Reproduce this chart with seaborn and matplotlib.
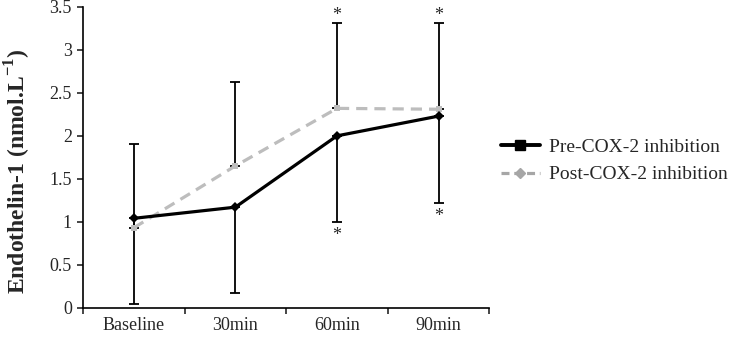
import numpy as np
import pandas as pd
import seaborn as sns
import matplotlib.pyplot as plt
from matplotlib.lines import Line2D
from matplotlib.ticker import FixedLocator

# values
times = ["Baseline", "30min", "60min", "90min"]
pre = [1.04, 1.17, 2.00, 2.23]
post = [0.93, 1.65, 2.32, 2.31]
pre_sd = [1.00, 1.00, 1.00, 1.01]    # drawn downwards only
post_sd = [0.98, 0.98, 0.99, 1.00]   # drawn upwards only
star_top = [False, False, True, True]
star_bottom = [False, False, True, True]

df = pd.DataFrame({
    "time": times * 2,
    "value": pre + post,
    "group": ["Pre-COX-2 inhibition"] * 4 + ["Post-COX-2 inhibition"] * 4,
})

sns.set_style("white")
plt.rcParams["font.family"] = ["Liberation Serif", "DejaVu Serif"]
plt.rcParams["mathtext.fontset"] = "custom"
plt.rcParams["mathtext.rm"] = "Liberation Serif"
plt.rcParams["mathtext.bf"] = "Liberation Serif:bold"

fig = plt.figure(figsize=(7.37, 3.41), dpi=100)
ax = fig.add_axes([0.1126, 0.0977, 0.5514, 0.8818])

x = np.arange(len(times))

# error bars first so lines sit on top
ax.errorbar(x, post, yerr=[np.zeros(4), post_sd], fmt="none", ecolor="black",
            elinewidth=1.3, capsize=3.5, capthick=1.3, zorder=1)
ax.errorbar(x, pre, yerr=[pre_sd, np.zeros(4)], fmt="none", ecolor="black",
            elinewidth=1.3, capsize=3.5, capthick=1.3, zorder=1)

sns.lineplot(data=df, x="time", y="value", hue="group", style="group",
             palette={"Pre-COX-2 inhibition": "black", "Post-COX-2 inhibition": "#bdbdbd"},
             dashes={"Pre-COX-2 inhibition": "", "Post-COX-2 inhibition": (3.5, 2.2)},
             markers={"Pre-COX-2 inhibition": "D", "Post-COX-2 inhibition": "s"},
             hue_order=["Post-COX-2 inhibition", "Pre-COX-2 inhibition"],
             markersize=5, markeredgewidth=0, linewidth=2.3, legend=False,
             ax=ax, zorder=3)

# significance stars
for i in range(len(times)):
    if star_top[i]:
        ax.text(x[i], post[i] + post_sd[i] - 0.01, "*", ha="center",
                va="bottom", fontsize=13)
    if star_bottom[i]:
        ax.text(x[i], pre[i] - pre_sd[i] - 0.06, "*", ha="center", va="top",
                fontsize=13)

ax.set_xlim(-0.5, 3.5)
ax.set_ylim(0, 3.5)
ax.set_yticks(np.arange(0, 3.51, 0.5))
ax.set_yticklabels(["0", "0.5", "1", "1.5", "2", "2.5", "3", "3.5"], fontsize=13)

# tick marks between categories, labels centred on them
ax.xaxis.set_major_locator(FixedLocator([-0.5, 0.5, 1.5, 2.5, 3.5]))
ax.xaxis.set_minor_locator(FixedLocator(x))
ax.set_xticklabels([])
ax.set_xticklabels(times, minor=True, fontsize=13)
ax.tick_params(axis="x", which="major", direction="out", length=4, width=1.2, bottom=True)
ax.tick_params(axis="x", which="minor", length=0, pad=7)
ax.tick_params(axis="y", direction="out", length=4, width=1.2, left=True, pad=4)

ax.set_xlabel("")
ax.set_ylabel(r"Endothelin-1 (nmol.L$^{\mathbf{-1}}$)", fontsize=17, fontweight="bold")
ax.yaxis.set_label_coords(-0.122, 0.455)

for side in ["top", "right"]:
    ax.spines[side].set_visible(False)
for side in ["left", "bottom"]:
    ax.spines[side].set_color("black")
    ax.spines[side].set_linewidth(1.2)

# legend as in the original (markers swapped there)
handles = [
    Line2D([], [], color="black", lw=2.8, marker="s", markersize=7),
    Line2D([], [], color="#a6a6a6", lw=2.3, ls=(0, (2.5, 1.5)), marker="D", markersize=5),
]
fig.legend(handles, ["Pre-COX-2 inhibition", "Post-COX-2 inhibition"],
           loc="center left", bbox_to_anchor=(0.656, 0.528), frameon=False,
           fontsize=14, handlelength=2.0, handletextpad=0.45, labelspacing=0.5)

fig.savefig("out.png", dpi=100)
